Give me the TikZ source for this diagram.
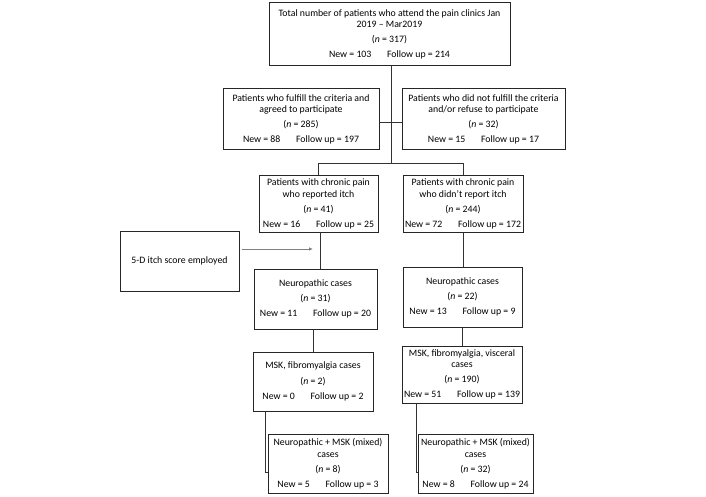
\documentclass[tikz,border=0pt]{standalone}
\usepackage{fontspec}
\setmainfont{Carlito}
\usetikzlibrary{arrows.meta}
\begin{document}
\begin{tikzpicture}[x=1pt,y=-1pt,
  box/.style={draw=black!85, line width=1pt, rectangle, align=center, inner sep=0pt,
    font=\fontsize{9.8}{11.2}\selectfont},
  conn/.style={draw=black!80, line width=1pt},
  garrow/.style={draw=black!50, line width=0.9pt, -{Latex[length=4pt,width=3.5pt]}}]
\useasboundingbox[fill=white] (0,0) rectangle (706,497);

\node[box, minimum width=241pt, minimum height=63pt] (b1) at (389.5,34.5)
  {Total number of patients who attend the pain clinics Jan\\2019 -- Mar2019\\[4pt](\textit{n} = 317)\\[4pt]New = 103\hspace{1.6em}Follow up = 214};

\node[box, minimum width=156pt, minimum height=61pt] (b2) at (301,119.5)
  {Patients who fulfill the criteria and\\agreed to participate\\[4pt](\textit{n} = 285)\\[4pt]New = 88\hspace{1.6em}Follow up = 197};

\node[box, minimum width=163pt, minimum height=61pt] (b3) at (483.5,119.5)
  {Patients who did not fulfill the criteria\\and/or refuse to participate\\[4pt](\textit{n} = 32)\\[4pt]New = 15\hspace{1.6em}Follow up = 17};

\node[box, minimum width=119pt, minimum height=56pt] (b4) at (318.5,204)
  {Patients with chronic pain\\who reported itch\\[4pt](\textit{n} = 41)\\[4pt]New = 16\hspace{1.6em}Follow up = 25};

\node[box, minimum width=120pt, minimum height=56pt] (b5) at (463,204)
  {Patients with chronic pain\\who didn’t report itch\\[4pt](\textit{n} = 244)\\[4pt]New = 72\hspace{1.6em}Follow up = 172};

\node[box, minimum width=119pt, minimum height=60pt] (itch) at (179.5,261)
  {5-D itch score employed};

\node[box, minimum width=123pt, minimum height=60pt] (b6) at (315.5,299)
  {Neuropathic cases\\[4pt](\textit{n} = 31)\\[4pt]New = 11\hspace{1.6em}Follow up = 20};

\node[box, minimum width=119pt, minimum height=60pt] (b7) at (462.5,297)
  {Neuropathic cases\\[4pt](\textit{n} = 22)\\[4pt]New = 13\hspace{1.6em}Follow up = 9};

\node[box, minimum width=120pt, minimum height=59pt] (b8) at (313,381.5)
  {MSK, fibromyalgia cases\\[4pt](\textit{n} = 2)\\[4pt]New = 0\hspace{1.6em}Follow up = 2};

\node[box, minimum width=120pt, minimum height=57pt] (b9) at (462,374.5)
  {MSK, fibromyalgia, visceral\\cases\\[4pt](\textit{n} = 190)\\[4pt]New = 51\hspace{1.6em}Follow up = 139};

\node[box, minimum width=120pt, minimum height=59pt] (b10) at (328,464)
  {Neuropathic + MSK (mixed)\\cases\\[4pt](\textit{n} = 8)\\[4pt]New = 5\hspace{1.6em}Follow up = 3};

\node[box, minimum width=115pt, minimum height=59pt] (b11) at (475.5,464)
  {Neuropathic + MSK (mixed)\\cases\\[4pt](\textit{n} = 32)\\[4pt]New = 8\hspace{1.6em}Follow up = 24};

% trunk
\coordinate (t1) at (391,66);
\coordinate (t2) at (391,164);
\draw[conn] (t1) -- (t2);
\draw[conn] (b2.east |- 0,123) -- (b3.west |- 0,123);
\draw[conn] (b4.north) -- (b4.north |- t2) -- (b5.north |- t2) -- (b5.north);

% left chain
\coordinate (l1) at (320,232);
\draw[conn] (l1) -- (l1 |- b6.north);
\coordinate (aS) at (242,249);
\coordinate (aE) at (313,249);
\draw[garrow] (aS) -- (aE);
\draw[conn] (b6.south -| b8.north) -- (b8.north);
\coordinate (l2) at (265,472);
\draw[conn] (l2 |- b8.south) -- (l2) -- (b10.west |- l2);

% right chain
\draw[conn] (b5.south) -- (b5.south |- b7.north);
\draw[conn] (b7.south -| b9.north) -- (b9.north);
\coordinate (r2) at (416,472);
\draw[conn] (r2 |- b9.south) -- (r2) -- (b11.west |- r2);
\end{tikzpicture}
\end{document}
